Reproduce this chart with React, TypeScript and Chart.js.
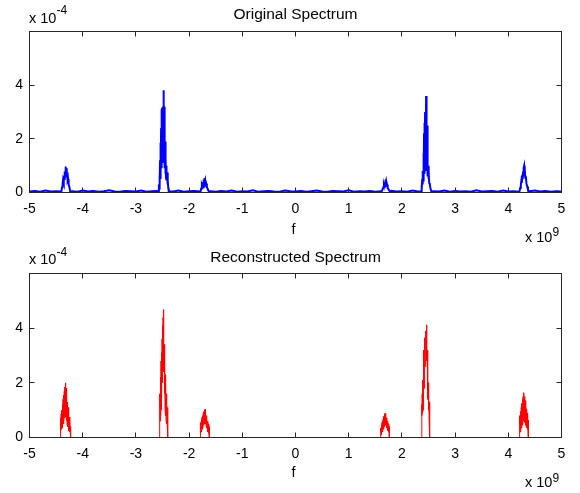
import React, { useEffect, useRef } from 'react';
import { Chart, registerables } from 'chart.js';

Chart.register(...registerables);

const FONT = '"Liberation Sans", Arial, Helvetica, sans-serif';
const AXIS_COLOR = '#262626';
const TEXT_COLOR = '#000000';

// Frequency ticks (units of 1e9) and amplitude ticks (units of 1e-4)
const xTickValues = [-5, -4, -3, -2, -1, 0, 1, 2, 3, 4, 5];
const yTickValues = [0, 2, 4];

// ---------- Original spectrum (blue): noise floor samples [f, |X|] ----------
const origBaseline: [number, number][] = [
  [-5.0, 0.04], [-4.9, 0.06], [-4.8, 0.03], [-4.7, 0.07], [-4.6, 0.04], [-4.5, 0.05],
  [-4.2, 0.05], [-4.1, 0.03], [-4.0, 0.07], [-3.9, 0.04], [-3.8, 0.06], [-3.7, 0.03], [-3.6, 0.05],
  [-3.5, 0.08], [-3.4, 0.04], [-3.3, 0.03], [-3.2, 0.06], [-3.1, 0.05], [-3.0, 0.04], [-2.9, 0.07],
  [-2.8, 0.03], [-2.7, 0.05], [-2.6, 0.06],
  [-2.3, 0.04], [-2.2, 0.07], [-2.1, 0.03], [-2.0, 0.05], [-1.9, 0.06], [-1.8, 0.04],
  [-1.6, 0.05], [-1.5, 0.03], [-1.4, 0.06], [-1.3, 0.04], [-1.2, 0.07], [-1.1, 0.03], [-1.0, 0.05],
  [-0.9, 0.04], [-0.8, 0.08], [-0.7, 0.03], [-0.6, 0.05], [-0.5, 0.06], [-0.4, 0.04], [-0.3, 0.03],
  [-0.2, 0.07], [-0.1, 0.05], [0.0, 0.04], [0.1, 0.06], [0.2, 0.03], [0.3, 0.05], [0.4, 0.07],
  [0.5, 0.04], [0.6, 0.03], [0.7, 0.06], [0.8, 0.05], [0.9, 0.04], [1.0, 0.08], [1.1, 0.03],
  [1.2, 0.05], [1.3, 0.04], [1.4, 0.06], [1.5, 0.03], [1.6, 0.05],
  [1.8, 0.06], [1.9, 0.04], [2.0, 0.05], [2.1, 0.03], [2.2, 0.07], [2.3, 0.04],
  [2.6, 0.05], [2.7, 0.04], [2.8, 0.07], [2.9, 0.03], [3.0, 0.06], [3.1, 0.04], [3.2, 0.05],
  [3.3, 0.03], [3.4, 0.08], [3.5, 0.04], [3.6, 0.05], [3.7, 0.06], [3.8, 0.03], [3.9, 0.07],
  [4.0, 0.04], [4.1, 0.05], [4.2, 0.03],
  [4.4, 0.05], [4.5, 0.07], [4.6, 0.04], [4.7, 0.06], [4.8, 0.03], [4.9, 0.05], [5.0, 0.04],
];

const origPeakNeg43: [number, number][] = [
  [-4.4, 0.04], [-4.388, 0.2], [-4.378, 0.32], [-4.368, 0.48], [-4.36, 0.38], [-4.352, 0.62],
  [-4.345, 0.5], [-4.338, 0.78], [-4.332, 0.6], [-4.326, 0.88], [-4.32, 0.97], [-4.314, 0.7],
  [-4.308, 0.9], [-4.3, 0.6], [-4.292, 0.75], [-4.284, 0.45], [-4.274, 0.5], [-4.264, 0.3],
  [-4.25, 0.2], [-4.235, 0.04],
];
const origPeakNeg245: [number, number][] = [
  [-2.575, 0.04], [-2.568, 0.3], [-2.562, 0.15], [-2.556, 0.6], [-2.551, 0.35], [-2.546, 1.2],
  [-2.541, 0.5], [-2.536, 1.85], [-2.531, 0.7], [-2.526, 2.4], [-2.521, 0.9], [-2.516, 3.1],
  [-2.511, 1.0], [-2.506, 3.15], [-2.501, 1.1], [-2.496, 3.2], [-2.491, 1.2], [-2.486, 3.1],
  [-2.482, 1.2], [-2.478, 3.81], [-2.474, 1.1], [-2.47, 3.2], [-2.465, 1.0], [-2.46, 2.8],
  [-2.455, 0.9], [-2.45, 1.9], [-2.445, 0.7], [-2.44, 1.3], [-2.434, 0.55], [-2.428, 1.0],
  [-2.421, 0.45], [-2.414, 0.75], [-2.406, 0.3], [-2.398, 0.45], [-2.39, 0.15], [-2.382, 0.04],
];
const origPeakNeg17: [number, number][] = [
  [-1.785, 0.04], [-1.772, 0.15], [-1.76, 0.26], [-1.75, 0.2], [-1.742, 0.38], [-1.734, 0.28],
  [-1.726, 0.48], [-1.719, 0.36], [-1.712, 0.54], [-1.705, 0.38], [-1.698, 0.46], [-1.69, 0.3],
  [-1.68, 0.34], [-1.666, 0.2], [-1.648, 0.12], [-1.63, 0.04],
];
const origPeakPos17: [number, number][] = [
  [1.62, 0.04], [1.638, 0.12], [1.652, 0.2], [1.662, 0.28], [1.67, 0.22], [1.677, 0.38],
  [1.683, 0.3], [1.689, 0.48], [1.695, 0.34], [1.702, 0.42], [1.71, 0.28], [1.72, 0.3],
  [1.732, 0.18], [1.748, 0.12], [1.762, 0.07], [1.778, 0.04],
];
const origPeakPos245: [number, number][] = [
  [2.36, 0.04], [2.368, 0.25], [2.375, 0.12], [2.382, 0.5], [2.388, 0.3], [2.394, 0.8],
  [2.4, 0.45], [2.406, 1.46], [2.411, 0.6], [2.416, 2.2], [2.421, 0.7], [2.426, 2.6],
  [2.431, 0.8], [2.436, 3.0], [2.441, 0.9], [2.446, 3.0], [2.451, 1.0], [2.455, 3.6],
  [2.459, 0.9], [2.463, 3.0], [2.468, 0.8], [2.473, 2.5], [2.478, 0.7], [2.483, 1.6],
  [2.488, 0.6], [2.494, 1.0], [2.5, 0.5], [2.506, 0.72], [2.514, 0.35], [2.524, 0.3],
  [2.538, 0.15], [2.555, 0.04],
];
const origPeakPos43: [number, number][] = [
  [4.21, 0.04], [4.225, 0.18], [4.236, 0.3], [4.246, 0.45], [4.254, 0.36], [4.262, 0.62],
  [4.27, 0.5], [4.278, 0.78], [4.285, 0.6], [4.292, 0.92], [4.298, 1.0], [4.304, 0.7],
  [4.312, 0.88], [4.32, 0.55], [4.33, 0.6], [4.342, 0.32], [4.356, 0.22], [4.37, 0.1],
  [4.382, 0.04],
];

// ---------- Reconstructed spectrum (red) ----------
const recBaseline: [number, number][] = [[-5.0, 0], [5.0, 0]];

const recPeakNeg43: [number, number][] = [
  [-4.42, 0], [-4.418, 0.7], [-4.412, 0.25], [-4.406, 0.85], [-4.4, 0.3], [-4.394, 1.0],
  [-4.388, 0.35], [-4.382, 1.2], [-4.376, 0.4], [-4.37, 1.4], [-4.364, 0.5], [-4.358, 1.55],
  [-4.352, 0.6], [-4.346, 1.7], [-4.34, 0.7], [-4.334, 1.85], [-4.328, 0.8], [-4.324, 2.0],
  [-4.318, 0.75], [-4.312, 1.8], [-4.306, 0.6], [-4.3, 1.6], [-4.294, 0.5], [-4.288, 1.3],
  [-4.282, 0.4], [-4.276, 1.1], [-4.27, 0.3], [-4.264, 0.9], [-4.258, 0.25], [-4.252, 0.75],
  [-4.246, 0.2], [-4.24, 0.6], [-4.234, 0.2], [-4.228, 0.4], [-4.225, 0],
];
const recPeakNeg245: [number, number][] = [
  [-2.56, 0], [-2.558, 1.2], [-2.553, 0.5], [-2.548, 1.6], [-2.543, 0.6], [-2.538, 2.2],
  [-2.533, 0.8], [-2.528, 2.8], [-2.523, 1.0], [-2.518, 3.1], [-2.513, 1.4], [-2.508, 3.6],
  [-2.503, 2.0], [-2.498, 4.1], [-2.493, 2.5], [-2.489, 4.4], [-2.485, 4.68], [-2.481, 3.0],
  [-2.477, 4.2], [-2.472, 2.4], [-2.467, 3.4], [-2.462, 1.6], [-2.457, 2.6], [-2.452, 1.0],
  [-2.447, 2.3], [-2.442, 0.8], [-2.437, 2.0], [-2.432, 0.6], [-2.427, 1.6], [-2.422, 0.5],
  [-2.417, 1.3], [-2.412, 0.5], [-2.407, 1.1], [-2.402, 0.5], [-2.4, 1.0], [-2.398, 0],
];
const recPeakNeg17: [number, number][] = [
  [-1.795, 0], [-1.793, 0.45], [-1.787, 0.15], [-1.781, 0.55], [-1.775, 0.2], [-1.769, 0.65],
  [-1.763, 0.25], [-1.757, 0.75], [-1.751, 0.3], [-1.745, 0.8], [-1.739, 0.35], [-1.733, 0.9],
  [-1.727, 0.45], [-1.721, 0.95], [-1.715, 0.5], [-1.709, 1.0], [-1.703, 0.55], [-1.699, 1.04],
  [-1.694, 0.5], [-1.688, 0.9], [-1.682, 0.45], [-1.676, 0.8], [-1.67, 0.35], [-1.664, 0.7],
  [-1.658, 0.3], [-1.652, 0.6], [-1.646, 0.2], [-1.64, 0.5], [-1.634, 0.15], [-1.628, 0.45],
  [-1.623, 0.1], [-1.621, 0.4], [-1.619, 0],
];
const recPeakPos17: [number, number][] = [
  [1.6, 0], [1.602, 0.35], [1.608, 0.1], [1.614, 0.45], [1.62, 0.15], [1.626, 0.55],
  [1.632, 0.2], [1.638, 0.62], [1.644, 0.25], [1.65, 0.7], [1.656, 0.3], [1.662, 0.78],
  [1.668, 0.4], [1.674, 0.85], [1.68, 0.45], [1.684, 0.89], [1.689, 0.5], [1.695, 0.8],
  [1.701, 0.45], [1.707, 0.72], [1.713, 0.35], [1.719, 0.65], [1.725, 0.3], [1.731, 0.6],
  [1.737, 0.25], [1.743, 0.5], [1.749, 0.2], [1.755, 0.45], [1.76, 0.15], [1.763, 0.4],
  [1.765, 0],
];
const recPeakPos245: [number, number][] = [
  [2.37, 0], [2.372, 1.2], [2.377, 0.8], [2.382, 1.6], [2.387, 0.9], [2.392, 2.1],
  [2.397, 1.0], [2.402, 2.6], [2.407, 1.3], [2.412, 3.2], [2.417, 1.8], [2.422, 3.6],
  [2.427, 2.2], [2.432, 3.65], [2.437, 2.6], [2.442, 3.8], [2.447, 2.8], [2.452, 3.9],
  [2.457, 3.0], [2.462, 4.0], [2.466, 4.12], [2.47, 2.8], [2.475, 3.2], [2.48, 2.0],
  [2.485, 2.35], [2.49, 1.4], [2.495, 2.0], [2.5, 1.0], [2.505, 1.6], [2.51, 0.8],
  [2.515, 1.3], [2.52, 0.8], [2.525, 1.2], [2.528, 0],
];
const recPeakPos43: [number, number][] = [
  [4.205, 0], [4.207, 0.7], [4.213, 0.15], [4.219, 0.8], [4.225, 0.2], [4.231, 0.95],
  [4.237, 0.3], [4.243, 1.1], [4.249, 0.35], [4.255, 1.25], [4.261, 0.45], [4.267, 1.4],
  [4.273, 0.5], [4.279, 1.5], [4.285, 0.6], [4.291, 1.6], [4.295, 1.64], [4.3, 0.6],
  [4.306, 1.5], [4.312, 0.55], [4.318, 1.35], [4.324, 0.45], [4.33, 1.2], [4.336, 0.4],
  [4.342, 1.05], [4.348, 0.35], [4.354, 0.9], [4.36, 0.3], [4.366, 0.8], [4.372, 0.2],
  [4.376, 0.64], [4.378, 0],
];

const originalSegments = [
  origBaseline, origPeakNeg43, origPeakNeg245, origPeakNeg17,
  origPeakPos17, origPeakPos245, origPeakPos43,
];
const reconstructedSegments = [
  recBaseline, recPeakNeg43, recPeakNeg245, recPeakNeg17,
  recPeakPos17, recPeakPos245, recPeakPos43,
];

function buildSeries(segments: [number, number][][]) {
  const pts: { x: number; y: number }[] = [];
  segments.forEach((seg) => seg.forEach(([f, a]) => pts.push({ x: f, y: a })));
  pts.sort((p, q) => p.x - q.x);
  return pts;
}

const W = 580;
const H = 493;

const framePlugin = {
  id: 'matlabFrame',
  afterDraw(chart: any, _args: any, opts: any) {
    const { ctx, chartArea, scales } = chart;
    const { left, top, right, bottom } = chartArea;
    const xs = scales.x;
    const ys = scales.y;
    const TL = 5;
    ctx.save();
    ctx.strokeStyle = AXIS_COLOR;
    ctx.lineWidth = 1;
    ctx.strokeRect(left, top, right - left, bottom - top);
    ctx.beginPath();
    xs.ticks.forEach((t: any) => {
      const px = Math.round(xs.getPixelForValue(t.value) - 0.5) + 0.5;
      ctx.moveTo(px, bottom);
      ctx.lineTo(px, bottom - TL);
      ctx.moveTo(px, top);
      ctx.lineTo(px, top + TL);
    });
    ys.ticks.forEach((t: any) => {
      const py = Math.round(ys.getPixelForValue(t.value) - 0.5) + 0.5;
      ctx.moveTo(left, py);
      ctx.lineTo(left + TL, py);
      ctx.moveTo(right, py);
      ctx.lineTo(right - TL, py);
    });
    ctx.stroke();

    ctx.fillStyle = TEXT_COLOR;
    ctx.textBaseline = 'alphabetic';
    // title
    ctx.font = `15.5px ${FONT}`;
    ctx.textAlign = 'center';
    ctx.fillText(opts.title, (left + right) / 2, opts.titleY);
    // x label
    ctx.font = `14.5px ${FONT}`;
    ctx.fillText('f', (left + right) / 2 - 2, opts.fY);
    // exponent labels
    ctx.textAlign = 'left';
    const drawExp = (x: number, y: number, supY: number, sup: string) => {
      ctx.font = `14.5px ${FONT}`;
      ctx.fillText('x 10', x, y);
      const w = ctx.measureText('x 10').width;
      ctx.font = `12px ${FONT}`;
      ctx.fillText(sup, x + w, supY);
    };
    drawExp(opts.yExp.x, opts.yExp.y, opts.yExp.supY, '-4');
    drawExp(opts.xExp.x, opts.xExp.y, opts.xExp.supY, '9');
    ctx.restore();
  },
};

function makeConfig(data: { x: number; y: number }[], color: string, width: number, frame: any) {
  const tickFont = { family: FONT, size: 14 };
  return {
    type: 'line' as const,
    data: {
      datasets: [
        {
          data,
          borderColor: color,
          borderWidth: width,
          pointRadius: 0,
          tension: 0,
          fill: false,
        },
      ],
    },
    options: {
      responsive: false,
      animation: false as const,
      events: [],
      layout: { padding: frame.padding },
      plugins: {
        legend: { display: false },
        tooltip: { enabled: false },
        title: { display: false },
        matlabFrame: frame,
      },
      scales: {
        x: {
          type: 'linear' as const,
          min: -5,
          max: 5,
          afterBuildTicks: (s: any) => {
            s.ticks = xTickValues.map((v) => ({ value: v }));
          },
          afterFit: (s: any) => {
            s.height = frame.xAxisHeight;
            s.paddingLeft = 0;
            s.paddingRight = 0;
          },
          grid: { display: false, drawTicks: false },
          border: { display: false },
          ticks: {
            padding: 8.5,
            color: TEXT_COLOR,
            font: tickFont,
            maxRotation: 0,
            autoSkip: false,
            callback: (v: any) => String(v),
          },
        },
        y: {
          type: 'linear' as const,
          min: 0,
          max: 6,
          afterBuildTicks: (s: any) => {
            s.ticks = yTickValues.map((v) => ({ value: v }));
          },
          afterFit: (s: any) => {
            s.width = 29.5;
            s.paddingTop = 0;
            s.paddingBottom = 0;
          },
          grid: { display: false, drawTicks: false },
          border: { display: false },
          ticks: {
            padding: 6.5,
            color: TEXT_COLOR,
            font: tickFont,
            callback: (v: any) => String(v),
          },
        },
      },
    },
    plugins: [framePlugin],
  };
}

export default function App() {
  const topRef = useRef<HTMLCanvasElement>(null);
  const botRef = useRef<HTMLCanvasElement>(null);

  useEffect(() => {
    const topFrame = {
      title: 'Original Spectrum',
      titleY: 18.5,
      fY: 233.5,
      yExp: { x: 29, y: 23.2, supY: 14 },
      xExp: { x: 525, y: 242.2, supY: 236 },
      padding: { left: 0, right: 18.5, top: 31.5, bottom: 247 },
      xAxisHeight: 53.5,
    };
    const botFrame = {
      title: 'Reconstructed Spectrum',
      titleY: 261.5,
      fY: 476.5,
      yExp: { x: 29, y: 263.5, supY: 255.5 },
      xExp: { x: 525, y: 487.2, supY: 481.5 },
      padding: { left: 0, right: 18.5, top: 273.5, bottom: 0 },
      xAxisHeight: 55.5,
    };
    const c1 = new Chart(topRef.current as HTMLCanvasElement, makeConfig(buildSeries(originalSegments), '#0000ff', 2, topFrame) as any);
    const c2 = new Chart(botRef.current as HTMLCanvasElement, makeConfig(buildSeries(reconstructedSegments), '#ff0000', 1, botFrame) as any);
    return () => {
      c1.destroy();
      c2.destroy();
    };
  }, []);

  const canvasStyle: React.CSSProperties = { position: 'absolute', left: 0, top: 0, width: W, height: H };
  return (
    <div style={{ position: 'absolute', left: 0, top: 0, width: W, height: H, background: '#fff' }}>
      <canvas ref={topRef} width={W} height={H} style={canvasStyle} />
      <canvas ref={botRef} width={W} height={H} style={canvasStyle} />
    </div>
  );
}
